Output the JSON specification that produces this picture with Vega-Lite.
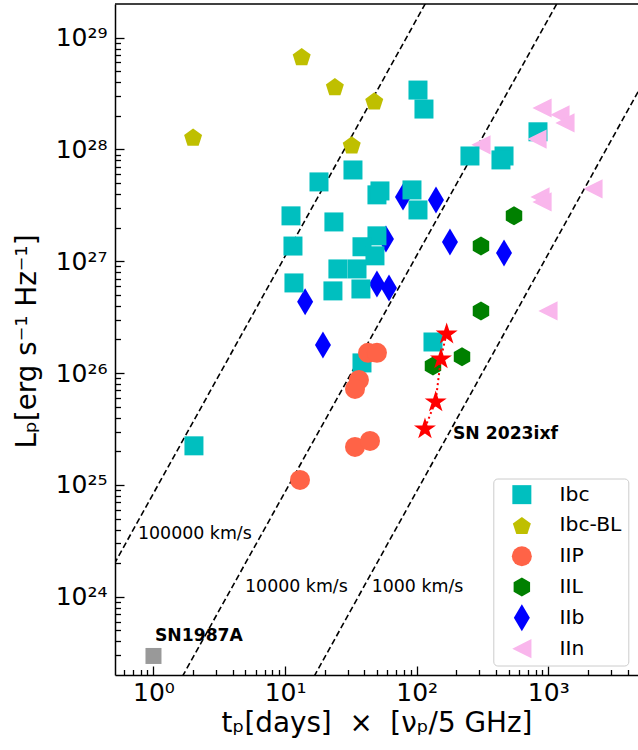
{
  "$schema": "https://vega.github.io/schema/vega-lite/v6.json",
  "width": 523,
  "height": 671,
  "autosize": {"type": "none"},
  "padding": {"left": 115, "top": 4, "right": 0, "bottom": 75},
  "background": "white",
  "config": {"view": {"stroke": null}, "font": "DejaVu Sans", "axis": {"grid": false}},
  "datasets": {
    "vlines": [
      {"speed": "100000", "x": 0.1234, "y": 1e23}, {"speed": "100000", "x": 247.7, "y": 1e30},
      {"speed": "10000", "x": 1.212, "y": 1e23}, {"speed": "10000", "x": 2479, "y": 1e30},
      {"speed": "1000", "x": 12.16, "y": 1e23}, {"speed": "1000", "x": 24040, "y": 1e30}
    ],
    "frame": [{"x": 0.51, "x2": 4806, "y": 2e29}],
    "sne": [
      {"type": "IIn", "x": 896, "y": 2.35e28}, {"type": "IIn", "x": 1227, "y": 2.04e28}, {"type": "IIn", "x": 1339, "y": 1.73e28},
      {"type": "IIn", "x": 308, "y": 1.10e28}, {"type": "IIn", "x": 865, "y": 3.77e27},
      {"type": "IIn", "x": 896, "y": 3.40e27}, {"type": "IIn", "x": 2186, "y": 4.45e27}, {"type": "IIn", "x": 995, "y": 3.60e26},
      {"type": "IIb", "x": 78.7, "y": 3.77e27}, {"type": "IIb", "x": 140.2, "y": 3.54e27}, {"type": "IIb", "x": 58.4, "y": 1.585e27},
      {"type": "IIb", "x": 179, "y": 1.49e27}, {"type": "IIb", "x": 461, "y": 1.19e27}, {"type": "IIb", "x": 49.9, "y": 6.28e26},
      {"type": "IIb", "x": 61.6, "y": 5.78e26}, {"type": "IIb", "x": 14.2, "y": 4.34e26}, {"type": "IIb", "x": 19.4, "y": 1.79e26},
      {"type": "Ibc", "x": 102.3, "y": 3.40e28}, {"type": "Ibc", "x": 113.6, "y": 2.30e28}, {"type": "Ibc", "x": 835, "y": 1.44e28},
      {"type": "Ibc", "x": 254, "y": 8.75e27}, {"type": "Ibc", "x": 461, "y": 8.75e27}, {"type": "Ibc", "x": 437, "y": 8.07e27},
      {"type": "Ibc", "x": 32.8, "y": 6.56e27}, {"type": "Ibc", "x": 18.1, "y": 5.13e27}, {"type": "Ibc", "x": 49.9, "y": 3.93e27},
      {"type": "Ibc", "x": 52.6, "y": 4.26e27}, {"type": "Ibc", "x": 92.1, "y": 4.35e27}, {"type": "Ibc", "x": 102.3, "y": 2.88e27},
      {"type": "Ibc", "x": 11.09, "y": 2.55e27}, {"type": "Ibc", "x": 23.5, "y": 2.25e27}, {"type": "Ibc", "x": 49.9, "y": 1.69e27},
      {"type": "Ibc", "x": 11.48, "y": 1.37e27}, {"type": "Ibc", "x": 38.4, "y": 1.35e27}, {"type": "Ibc", "x": 48.2, "y": 1.12e27},
      {"type": "Ibc", "x": 25.2, "y": 8.55e26}, {"type": "Ibc", "x": 35.2, "y": 8.55e26}, {"type": "Ibc", "x": 11.68, "y": 6.41e26},
      {"type": "Ibc", "x": 23.1, "y": 5.44e26}, {"type": "Ibc", "x": 37.7, "y": 5.66e26}, {"type": "Ibc", "x": 133, "y": 1.90e26},
      {"type": "Ibc", "x": 38.4, "y": 1.235e26}, {"type": "Ibc", "x": 2.03, "y": 2.24e25},
      {"type": "IIn", "x": 821, "y": 1.24e28},
      {"type": "Ibc-BL", "x": 2.0, "y": 1.29e28}, {"type": "Ibc-BL", "x": 13.37, "y": 6.77e28}, {"type": "Ibc-BL", "x": 23.9, "y": 3.65e28},
      {"type": "Ibc-BL", "x": 47.6, "y": 2.72e28}, {"type": "Ibc-BL", "x": 32.1, "y": 1.10e28},
      {"type": "IIL", "x": 549, "y": 2.55e27}, {"type": "IIL", "x": 308, "y": 1.37e27}, {"type": "IIL", "x": 308, "y": 3.60e26},
      {"type": "IIL", "x": 133, "y": 1.16e26}, {"type": "IIL", "x": 221, "y": 1.40e26},
      {"type": "IIP", "x": 12.98, "y": 1.11e25}, {"type": "IIP", "x": 42.7, "y": 1.52e26}, {"type": "IIP", "x": 49.9, "y": 1.52e26},
      {"type": "IIP", "x": 36.4, "y": 8.70e25}, {"type": "IIP", "x": 34.0, "y": 7.23e25}, {"type": "IIP", "x": 34.0, "y": 2.19e25},
      {"type": "IIP", "x": 44.2, "y": 2.48e25}
    ],
    "ixf": [
      {"x": 115.6, "y": 3.24e25}, {"x": 139.5, "y": 5.65e25}, {"x": 153, "y": 1.37e26}, {"x": 169, "y": 2.29e26}
    ],
    "sn87": [{"x": 1.0, "y": 2.96e23}],
    "vlabels": [
      {"x": 0.762, "y": 3.62e24, "label": "100000 km/s"},
      {"x": 4.96, "y": 1.227e24, "label": "10000 km/s"},
      {"x": 45.5, "y": 1.227e24, "label": "1000 km/s"}
    ],
    "names": [
      {"x": 1.026, "y": 4.48e23, "label": "SN1987A"},
      {"x": 188.7, "y": 2.86e25, "label": "SN 2023ixf"}
    ]
  },
  "encoding": {
    "x": {
      "field": "x", "type": "quantitative",
      "scale": {"type": "log", "domain": [0.51, 4806], "nice": false},
      "axis": {
        "values": [0.6, 0.7, 0.8, 0.9, 1, 2, 3, 4, 5, 6, 7, 8, 9, 10, 20, 30, 40, 50, 60, 70, 80, 90, 100, 200, 300, 400, 500, 600, 700, 800, 900, 1000, 2000, 3000, 4000],
        "labelExpr": "datum.value == 1 ? '10⁰' : datum.value == 10 ? '10¹' : datum.value == 100 ? '10²' : datum.value == 1000 ? '10³' : ''",
        "title": "tₚ[days] \u00a0×\u00a0 [νₚ/5 GHz]",
        "domainColor": "black", "domainWidth": 1.5,
        "tickColor": "black", "tickWidth": 1.3,
        "tickSize": {"condition": {"test": "abs(log(datum.value)/LN10 - round(log(datum.value)/LN10)) < 0.001", "value": -9}, "value": -5.5},
        "labelPadding": 14.5, "labelBaseline": "top",
        "labelFontSize": 25, "labelColor": "black", "labelFlush": false, "labelOverlap": false,
        "titleFontSize": 27.8, "titleFontWeight": "normal", "titleColor": "black",
        "titleBaseline": "alphabetic", "titleX": 261.5, "titleY": 56
      }
    },
    "y": {
      "field": "y", "type": "quantitative",
      "scale": {"type": "log", "domain": [2e23, 2e29], "nice": false},
      "axis": {
        "values": [3e23, 4e23, 5e23, 6e23, 7e23, 8e23, 9e23, 1e24, 2e24, 3e24, 4e24, 5e24, 6e24, 7e24, 8e24, 9e24, 1e25, 2e25, 3e25, 4e25, 5e25, 6e25, 7e25, 8e25, 9e25, 1e26, 2e26, 3e26, 4e26, 5e26, 6e26, 7e26, 8e26, 9e26, 1e27, 2e27, 3e27, 4e27, 5e27, 6e27, 7e27, 8e27, 9e27, 1e28, 2e28, 3e28, 4e28, 5e28, 6e28, 7e28, 8e28, 9e28, 1e29],
        "labelExpr": "datum.value == 1e24 ? '10²⁴' : datum.value == 1e25 ? '10²⁵' : datum.value == 1e26 ? '10²⁶' : datum.value == 1e27 ? '10²⁷' : datum.value == 1e28 ? '10²⁸' : datum.value == 1e29 ? '10²⁹' : ''",
        "title": "Lₚ[erg s⁻¹ Hz⁻¹]",
        "domainColor": "black", "domainWidth": 1.5,
        "tickColor": "black", "tickWidth": 1.3,
        "tickSize": {"condition": {"test": "abs(log(datum.value)/LN10 - round(log(datum.value)/LN10)) < 0.001", "value": -9}, "value": -5.5},
        "labelPadding": 17,
        "labelFontSize": 25, "labelColor": "black", "labelFlush": false, "labelOverlap": false,
        "titleFontSize": 27.8, "titleFontWeight": "normal", "titleColor": "black",
        "titleBaseline": "alphabetic", "titleX": -80, "titleY": 337
      }
    }
  },
  "layer": [
    {
      "data": {"name": "vlines"},
      "mark": {"type": "line", "color": "black", "strokeDash": [6, 3.2], "strokeWidth": 1.6, "clip": true},
      "encoding": {"detail": {"field": "speed", "type": "nominal"}}
    },
    {
      "data": {"name": "frame"},
      "mark": {"type": "rule", "color": "black", "strokeWidth": 1.5},
      "encoding": {"x2": {"field": "x2"}}
    },
    {
      "data": {"name": "sne"},
      "mark": {"type": "point", "filled": true, "size": 400, "opacity": 1, "strokeWidth": 0},
      "encoding": {
        "color": {
          "field": "type", "type": "nominal",
          "scale": {"domain": ["Ibc", "Ibc-BL", "IIP", "IIL", "IIb", "IIn"], "range": ["#00bfbf", "#bfbf00", "#ff6347", "#008000", "#0000ff", "#f9b6ec"]},
          "legend": {
            "orient": "none", "legendX": 378.3, "legendY": 474.5, "title": null, "gridAlign": "all",
            "symbolSize": 400, "symbolStrokeWidth": 0, "symbolOpacity": 1,
            "labelFontSize": 20.3, "labelColor": "black", "labelFont": "DejaVu Sans",
            "padding": 6, "symbolOffset": 12.4, "labelOffset": 27.6, "rowPadding": 2.8,
            "strokeColor": "#cccccc", "fillColor": "white", "cornerRadius": 4
          }
        },
        "shape": {
          "field": "type", "type": "nominal",
          "scale": {"domain": ["Ibc", "Ibc-BL", "IIP", "IIL", "IIb", "IIn"], "range": [
            "M-0.95,-0.95L0.95,-0.95L0.95,0.95L-0.95,0.95Z",
            "M0,-0.856L0.9,-0.202L0.556,0.855L-0.556,0.855L-0.9,-0.202Z",
            "circle",
            "M0,-0.95L0.823,-0.475L0.823,0.475L0,0.95L-0.823,0.475L-0.823,-0.475Z",
            "M0,-1.35L0.8,0L0,1.35L-0.8,0Z",
            "M-0.96,0L0.96,-0.96L0.96,0.96Z"
          ]},
          "legend": {
            "orient": "none", "legendX": 378.3, "legendY": 474.5, "title": null, "gridAlign": "all",
            "symbolSize": 400, "symbolStrokeWidth": 0, "symbolOpacity": 1,
            "labelFontSize": 20.3, "labelColor": "black", "labelFont": "DejaVu Sans",
            "padding": 6, "symbolOffset": 12.4, "labelOffset": 27.6, "rowPadding": 2.8,
            "strokeColor": "#cccccc", "fillColor": "white", "cornerRadius": 4
          }
        }
      }
    },
    {
      "data": {"name": "ixf"},
      "mark": {"type": "line", "color": "red", "strokeDash": [2, 3], "strokeWidth": 2}
    },
    {
      "data": {"name": "ixf"},
      "mark": {"type": "point", "filled": true, "size": 400, "opacity": 1, "color": "red", "strokeWidth": 0,
               "shape": "M0,-1.047L0.26,-0.248L1.1,-0.248L0.42,0.247L0.68,1.046L0,0.552L-0.68,1.046L-0.42,0.247L-1.1,-0.248L-0.26,-0.248Z"}
    },
    {
      "data": {"name": "sn87"},
      "mark": {"type": "point", "filled": true, "size": 256, "opacity": 1, "color": "#999999", "shape": "square", "strokeWidth": 0}
    },
    {
      "data": {"name": "vlabels"},
      "mark": {"type": "text", "align": "left", "baseline": "middle", "fontSize": 17.4, "color": "black", "font": "DejaVu Sans"},
      "encoding": {"text": {"field": "label"}}
    },
    {
      "data": {"name": "names"},
      "mark": {"type": "text", "align": "left", "baseline": "middle", "fontSize": 17.2, "fontWeight": "bold", "color": "black", "font": "DejaVu Sans"},
      "encoding": {"text": {"field": "label"}}
    }
  ]
}
